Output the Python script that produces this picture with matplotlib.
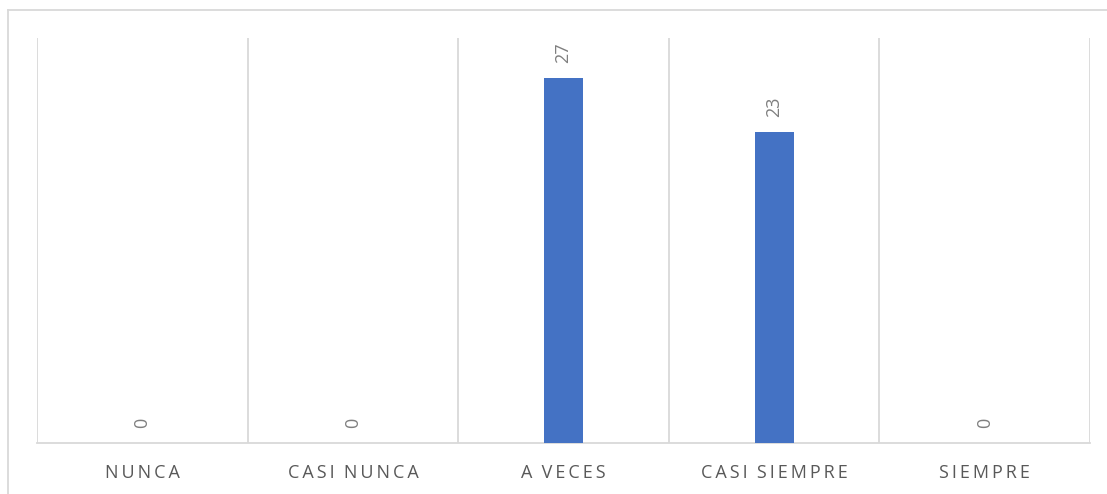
import matplotlib.pyplot as plt
import numpy as np

categories = ['NUNCA', 'CASI NUNCA', 'A VECES', 'CASI SIEMPRE', 'SIEMPRE']
values = [0, 0, 27, 23, 0]

plt.rcParams['font.family'] = ['Open Sans', 'DejaVu Sans']


def spaced(label):
    # imitate the wide letter spacing of the original axis labels
    return '  '.join('\u2009'.join(word) for word in label.split(' '))


fig = plt.figure(figsize=(11.07, 4.94), dpi=100)
ax = fig.add_axes([37 / 1107, 51 / 494, 1053 / 1107, 405 / 494])

x = np.arange(len(categories))
bars = ax.bar(x, values, width=0.185, color='#4472C4', zorder=3)

for xi, v in zip(x, values):
    ax.annotate(str(v), (xi, v), xytext=(0, 11), textcoords='offset points',
                rotation=90, ha='center', va='bottom', fontsize=13, color='#7f7f7f')

ax.set_xlim(-0.5, len(categories) - 0.5)
ax.set_ylim(0, 30)
ax.set_yticks([])
ax.set_xticks(x)
ax.set_xticklabels([spaced(c) for c in categories], fontsize=13, color='#595959')
ax.tick_params(axis='x', length=0, pad=15)

for b in np.arange(-0.5, len(categories), 1.0):
    ax.axvline(b, color='#d9d9d9', lw=1.3, zorder=1)

for side in ['top', 'right', 'left']:
    ax.spines[side].set_visible(False)
ax.spines['bottom'].set_color('#d9d9d9')
ax.spines['bottom'].set_linewidth(1.3)

# outer chart border (cropped at right and bottom)
fig.add_artist(plt.Line2D([8 / 1107, 8 / 1107], [0, 484 / 494], color='#d9d9d9', lw=1.3))
fig.add_artist(plt.Line2D([8 / 1107, 1], [484 / 494, 484 / 494], color='#d9d9d9', lw=1.3))

fig.savefig('out.png', dpi=100)
